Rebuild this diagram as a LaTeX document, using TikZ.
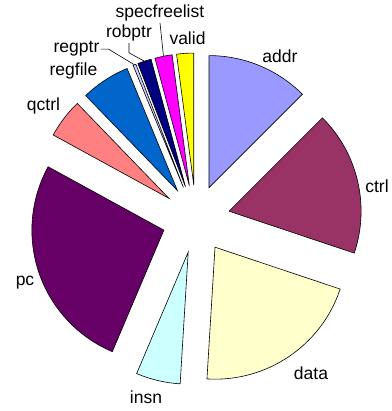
\documentclass[tikz,border=0pt]{standalone}
\usepackage{fontspec}
\setmainfont{Liberation Sans}
\usetikzlibrary{calc}
\definecolor{pieAddr}{HTML}{9999FF}
\definecolor{pieCtrl}{HTML}{993366}
\definecolor{pieData}{HTML}{FFFFCC}
\definecolor{pieInsn}{HTML}{CCFFFF}
\definecolor{piePc}{HTML}{660066}
\definecolor{pieQctrl}{HTML}{FF8080}
\definecolor{pieRegfile}{HTML}{0066CC}
\definecolor{pieRegptr}{HTML}{CCCCFF}
\definecolor{pieRobptr}{HTML}{000080}
\definecolor{pieSpec}{HTML}{FF00FF}
\definecolor{pieValid}{HTML}{FFFF00}
\tikzset{
  pieSlice/.style={draw=black, line width=0.6pt, line join=miter},
  pieLabel/.style={font=\fontsize{17.5}{20}\selectfont, inner sep=1pt, anchor=base},
  pieLeader/.style={draw=black, line width=0.6pt}
}

\begin{document}
\begin{tikzpicture}[x=1pt, y=1pt]
    \useasboundingbox (0,0) rectangle (391,411);

    % exploded slices, offset 34 along each bisector
    \begin{scope}[shift={(196,192)}]
      \foreach \a/\b/\c in {90/45/pieAddr, 45/-18.5/pieCtrl,
          -18.5/-93.5/pieData, -93.5/-113/pieInsn, -113/-208.7/piePc,
          151.3/134/pieQctrl, 134/112.4/pieRegfile, 112.4/111.1/pieRegptr,
          111.1/105.1/pieRobptr, 105.1/97.5/pieSpec, 97.5/90/pieValid} {
        \pgfmathsetmacro{\m}{(\a+\b)/2}
        \draw[pieSlice, fill=\c] (\m:34) -- ++(\a:132)
          arc[start angle=\a, end angle=\b, radius=132] -- cycle;
      }
      \coordinate (regptrTip) at (111.75:166);
      \coordinate (robptrTip) at (108.1:166);
      \coordinate (specTip) at (101.3:166);
    \end{scope}

    \node[pieLabel] (addr) at (280,348) {addr};
    \node[pieLabel] (ctrl) at (377,218) {ctrl};
    \node[pieLabel] (data) at (311,31) {data};
    \node[pieLabel] (insn) at (146,8) {insn};
    \node[pieLabel] (pc) at (25,125) {pc};
    \node[pieLabel] (qctrl) at (43.5,300) {qctrl};
    \node[pieLabel] (regfile) at (73.5,335) {regfile};
    \node[pieLabel] (regptr) at (76.5,358) {regptr};
    \node[pieLabel] (robptr) at (129,373) {robptr};
    \node[pieLabel] (spec) at (160,393) {specfreelist};
    \node[pieLabel] (valid) at (187.5,366) {valid};

    \draw[pieLeader] (regptr.east) -- ++(8,0) -- (regptrTip);
    \draw[pieLeader] (robptr.south) -- ++(0,-10) -- (robptrTip);
    \draw[pieLeader] (spec.south) -- (specTip);
  \end{tikzpicture}
\end{document}
